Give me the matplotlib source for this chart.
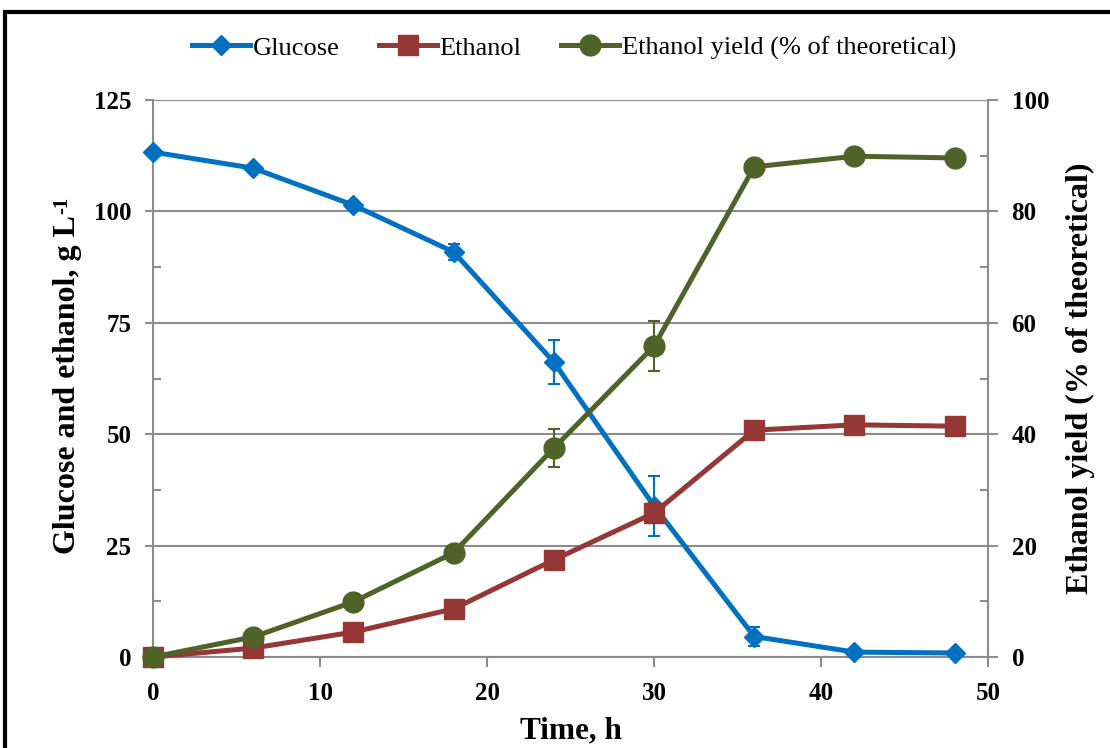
import matplotlib
matplotlib.use("Agg")
import matplotlib.pyplot as plt
from matplotlib.patches import Rectangle
from matplotlib.lines import Line2D

time_h = [0, 6, 12, 18, 24, 30, 36, 42, 48]
glucose = [113.3, 109.7, 101.4, 90.9, 66.2, 33.9, 4.6, 1.1, 0.9]
glucose_err = [0, 0, 0, 1.8, 5.0, 6.8, 2.2, 0, 0]
ethanol = [0.0, 2.0, 5.6, 10.8, 21.8, 32.3, 50.9, 52.1, 51.8]
ethanol_err = [0, 0, 0, 0, 0, 2.3, 0, 0, 0]
yield_pct = [0.0, 3.6, 9.9, 18.7, 37.5, 55.8, 88.0, 89.9, 89.6]
yield_err = [0, 0, 0, 0, 3.4, 4.5, 0, 0, 0]

left_ticks = [0, 25, 50, 75, 100, 125]
right_ticks = [0, 20, 40, 60, 80, 100]
x_ticks = [0, 10, 20, 30, 40, 50]

c_glu = "#0070C0"
c_eth = "#953735"
c_yld = "#4F6228"
grid_c = "#8C8C8C"

plt.rcParams['font.family'] = ['Liberation Serif', 'DejaVu Serif']

fig = plt.figure(figsize=(11.1, 7.48), dpi=100)
ax = fig.add_axes([153/1110, 91/748, 835/1110, 557/748])
ax2 = ax.twinx()

lw = 3.6
ms_d, ms_s, ms_o = 10.5, 14, 15
ax.errorbar(time_h, glucose, yerr=glucose_err, color=c_glu, lw=lw, marker='D',
            markersize=ms_d, elinewidth=1.5, ecolor=c_glu, capsize=4.5, capthick=1.5,
            zorder=3, clip_on=False)
ax.errorbar(time_h, ethanol, yerr=ethanol_err, color=c_eth, lw=lw, marker='s',
            markersize=ms_s, elinewidth=1.5, ecolor=c_eth, capsize=4.5, capthick=1.5,
            zorder=4, clip_on=False)
ax2.errorbar(time_h, yield_pct, yerr=yield_err, color=c_yld, lw=lw, marker='o',
             markersize=ms_o, elinewidth=1.5, ecolor=c_yld, capsize=4.5, capthick=1.5,
             zorder=5, clip_on=False)

ax.set_xlim(0, 50)
ax.set_ylim(0, 125)
ax2.set_ylim(0, 100)
ax.set_xticks(x_ticks)
ax.set_yticks(left_ticks)
ax2.set_yticks(right_ticks)
ax.set_yticks([12.5, 37.5, 62.5, 87.5, 112.5], minor=True)
ax2.set_yticks([10, 30, 50, 70, 90], minor=True)

ax.yaxis.grid(True, color=grid_c, lw=1.5)
ax.set_axisbelow(True)

for a in (ax, ax2):
    a.spines['top'].set_visible(False)
    for s in ('left', 'right', 'bottom'):
        a.spines[s].set_color(grid_c)
        a.spines[s].set_linewidth(1.5)
    a.set_facecolor('none')
ax2.spines['left'].set_visible(False)
ax2.spines['bottom'].set_visible(False)
ax.spines['right'].set_visible(False)

ax.tick_params(axis='x', which='major', direction='out', length=7, width=1.5,
               color=grid_c, labelsize=18, pad=11)
ax.tick_params(axis='y', which='major', direction='out', length=6, width=1.5,
               color=grid_c, labelsize=18, pad=9.5)
ax.tick_params(axis='y', which='minor', direction='in', length=6, width=1.5, color=grid_c)
ax2.tick_params(axis='y', which='major', direction='out', length=7, width=1.5,
                color=grid_c, labelsize=18, pad=10)
ax2.tick_params(axis='y', which='minor', direction='in', length=6, width=1.5, color=grid_c)
for lab in ax.get_xticklabels() + ax.get_yticklabels() + ax2.get_yticklabels():
    lab.set_fontweight('bold')

ax.set_xlabel("Time, h", fontsize=22.5, fontweight='bold', labelpad=8)
ax2.set_ylabel("Ethanol yield (% of theoretical)", fontsize=23, fontweight='bold',
               labelpad=12)

# left label with superscript drawn as two texts
ylab = fig.text(68/1110, 1 - 384/748, "Glucose and ethanol, g L", rotation=90,
                ha='center', va='center', fontsize=23, fontweight='bold')
fig.canvas.draw()
bb = ylab.get_window_extent()
inv = fig.transFigure.inverted()
(x0, y0), (x1, y1) = inv.transform([[bb.x0, bb.y0], [bb.x1, bb.y1]])
fig.text(x0 - 1/1110, y1 + 1/748, "-1", rotation=90, ha='left', va='bottom',
         fontsize=15, fontweight='bold')

handles = [
    Line2D([], [], color=c_glu, lw=lw, marker='D', markersize=ms_d),
    Line2D([], [], color=c_eth, lw=lw, marker='s', markersize=ms_s),
    Line2D([], [], color=c_yld, lw=lw, marker='o', markersize=ms_o),
]
fig.legend(handles, ["Glucose", "Ethanol", "Ethanol yield (% of theoretical)"],
           loc='center', bbox_to_anchor=(574/1110, 1 - 48/748), ncol=3,
           frameon=False, fontsize=19, handlelength=2.2, handletextpad=0.1,
           columnspacing=1.5)

fig.patches.append(Rectangle((5/1110, -0.05), 1.1, (748 - 12)/748 + 0.05,
                             transform=fig.transFigure, fill=False,
                             edgecolor='black', lw=3, zorder=10))

fig.savefig("out.png", dpi=100)
